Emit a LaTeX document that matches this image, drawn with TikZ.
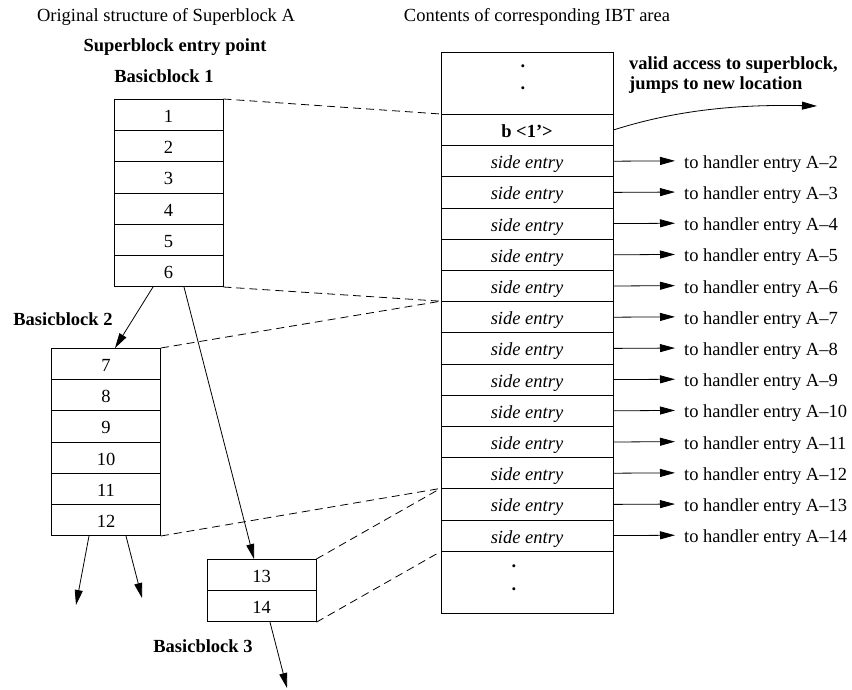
\documentclass[tikz,border=0pt]{standalone}
\usepackage{fontspec}
\setmainfont{Liberation Serif}
\usetikzlibrary{arrows.meta}
\begin{document}
\begin{tikzpicture}[x=1pt,y=-1pt,
  font=\fontsize{18.5}{22}\selectfont,
  cell/.style={draw, line width=0.8pt, minimum width=109pt, minimum height=31.2pt,
    inner sep=0pt, text height=15pt, text depth=0pt, anchor=north},
  ibtrow/.style={draw, line width=0.8pt, minimum width=172pt, minimum height=31.2pt,
    inner sep=0pt, text height=15pt, text depth=0pt, anchor=north},
  handler/.style={inner sep=0pt, text height=15pt, text depth=0pt, anchor=west},
  link/.style={line width=0.8pt, dash pattern=on 8pt off 5pt},
  flow/.style={line width=0.8pt, -{Triangle[length=15pt,width=8pt]}},
  lbl/.style={inner sep=0pt, anchor=base, font=\fontsize{18.5}{22}\selectfont\bfseries},
  title/.style={inner sep=0pt, anchor=base},
  dotmark/.style={inner sep=0pt, anchor=base, font=\fontsize{18.5}{22}\selectfont\bfseries}]

\useasboundingbox (0,0) rectangle (852,690);

% titles
\node[title] (t1) at (166,22) {Original structure of Superblock A};
\node[title] (t2) at (537,22) {Contents of corresponding IBT area};
\node[lbl] (sep) at (175,52) {Superblock entry point};
\node[lbl] (bb1) at (164,83) {Basicblock 1};
\node[lbl] (bb2) at (63,325) {Basicblock 2};
\node[lbl] (bb3) at (203,652) {Basicblock 3};

% Basicblock 1
\foreach \i in {1,...,6}
  \node[cell] (a\i) at (168.5,{99+(\i-1)*31.2}) {\i};
% Basicblock 2
\foreach \i [evaluate=\i as \n using int(\i+6)] in {1,...,6}
  \node[cell] (a\n) at (106,{348+(\i-1)*31.2}) {\n};
% Basicblock 3
\node[cell] (a13) at (261.5,559) {13};
\node[cell] (a14) at (261.5,590.2) {14};

% IBT area
\node[ibtrow, minimum height=62pt] (ibttop) at (527,52) {};
\node[ibtrow] (ibtb) at (527,114) {\textbf{b <1'>}};
\foreach \i in {2,...,14} {
  \node[ibtrow] (se\i) at (527,{145.2+(\i-2)*31.2}) {\textit{side entry}};
  \node[handler] (h\i) at (684,{145.2+(\i-2)*31.2+15.6}) {to handler entry A--\i};
  \draw[flow, shorten >=9pt] (se\i.east) -- (h\i.west);
}
\node[ibtrow, minimum height=62.2pt] (ibtbot) at (527,550.8) {};

\node[dotmark] (d1) at (523,67.5) {.};
\node[dotmark] (d2) at (523,90) {.};
\node[dotmark] (d3) at (514,567.5) {.};
\node[dotmark] (d4) at (514,590) {.};

% jump arrow
\node[inner sep=0pt, anchor=north west, align=left,
  font=\fontsize{18.5}{20}\selectfont\bfseries] (valid) at (629,56)
  {valid access to superblock,\\jumps to new location};
\coordinate (jump) at (817,106);
\draw[flow] (ibtb.east) .. controls (670,112) and (730,104) .. (jump);

% dashed correspondences
\draw[link] (a1.north east) -- (ibtb.north west);
\draw[link] (a6.south east) -- (se7.north west);
\draw[link] (a7.north east) -- (se7.north west);
\draw[link] (a12.south east) -- (se13.north west);
\draw[link] (a13.north east) -- (se13.north west);
\draw[link] (a14.south east) -- (se14.south west);

% control flow
\coordinate (o1) at (76,605);
\coordinate (o2) at (142,598);
\coordinate (o3) at (287,688);
\draw[flow] ([xshift=-15.5pt]a6.south) -- ([xshift=9pt]a7.north);
\draw[flow] ([xshift=15.5pt]a6.south) -- ([xshift=-7.5pt]a13.north);
\draw[flow] ([xshift=-17pt]a12.south) -- (o1);
\draw[flow] ([xshift=20pt]a12.south) -- (o2);
\draw[flow] ([xshift=8.5pt]a14.south) -- (o3);
\end{tikzpicture}
\end{document}
